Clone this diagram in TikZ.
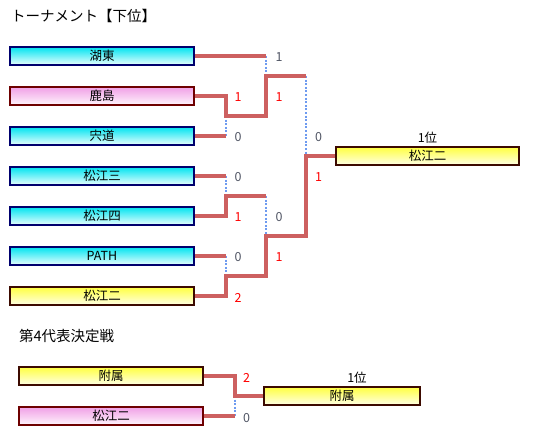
\documentclass[tikz,border=0pt]{standalone}
\usepackage{fontspec}
\setmainfont{Noto Sans CJK JP}
\definecolor{redline}{RGB}{205,96,96}
\definecolor{dotline}{RGB}{110,155,240}
\definecolor{wincol}{RGB}{255,0,0}
\definecolor{losecol}{RGB}{80,85,100}
\definecolor{cyantop}{RGB}{0,228,240}
\definecolor{cyanbot}{RGB}{235,255,255}
\definecolor{pinktop}{RGB}{240,160,230}
\definecolor{pinkbot}{RGB}{255,245,252}
\definecolor{yeltop}{RGB}{255,255,64}
\definecolor{yelbot}{RGB}{255,255,230}
\definecolor{navyb}{RGB}{0,0,110}
\definecolor{redb}{RGB}{110,0,0}
\definecolor{brownb}{RGB}{60,10,0}
\begin{document}
\begin{tikzpicture}[x=1pt,y=-1pt,
  team/.style={draw,line width=1.5pt,rectangle,minimum height=18pt,inner sep=0pt,font=\fontsize{12.5}{14}\selectfont},
  tcyan/.style={team,navyb,text=black,top color=cyantop,bottom color=cyanbot},
  tpink/.style={team,redb,text=black,top color=pinktop,bottom color=pinkbot},
  tyel/.style={team,brownb,text=black,top color=yeltop,bottom color=yelbot},
  wide/.style={minimum width=184pt},
  redpath/.style={draw=redline,line width=3.4pt,line join=miter},
  dotpath/.style={draw=dotline,line width=2.8pt,dash pattern=on 2pt off 1.6pt},
  win/.style={text=wincol,font=\fontsize{12.5}{14}\selectfont,inner sep=0pt},
  lose/.style={text=losecol,font=\fontsize{12.5}{14}\selectfont,inner sep=0pt},
  lbl/.style={font=\fontsize{12.5}{14}\selectfont,inner sep=0pt},
  ttl/.style={font=\fontsize{14.5}{16}\selectfont,inner sep=0pt,anchor=west}
]
\useasboundingbox (0,0) rectangle (541,437);

\node[ttl] (title1) at (11,16) {トーナメント【下位】};

\node[tcyan,wide] (kotou) at (102,56) {湖東};
\node[tpink,wide] (kashima) at (102,96) {鹿島};
\node[tcyan,wide] (shinji) at (102,136) {宍道};
\node[tcyan,wide] (matsue3) at (102,176) {松江三};
\node[tcyan,wide] (matsue4) at (102,216) {松江四};
\node[tcyan,wide] (pathteam) at (102,256) {PATH};
\node[tyel,wide] (matsue2) at (102,296) {松江二};
\node[tyel,minimum width=183pt] (final1) at (427.5,156) {松江二};
\node[lbl] (rank1) at (427.5,138) {1位};

\coordinate (a1) at (266,56);
\coordinate (a2) at (226,96);
\coordinate (a3) at (226,116);
\coordinate (a4) at (266,116);
\coordinate (a5) at (266,76);
\coordinate (a6) at (306,76);
\coordinate (b1) at (226,136);
\coordinate (c1) at (226,176);
\coordinate (c2) at (226,216);
\coordinate (c3) at (226,196);
\coordinate (c4) at (266,196);
\coordinate (d1) at (226,256);
\coordinate (e1) at (226,296);
\coordinate (e2) at (226,276);
\coordinate (e3) at (266,276);
\coordinate (e4) at (266,236);
\coordinate (e5) at (306,236);
\coordinate (e6) at (306,156);

\draw[dotpath] (a1) -- (a5);
\draw[dotpath] (a3) -- (b1);
\draw[dotpath] (a6) -- (e6);
\draw[dotpath] (c1) -- (c3);
\draw[dotpath] (c4) -- (e4);
\draw[dotpath] (d1) -- (e2);

\draw[redpath] (kotou.east) -- (a1);
\draw[redpath] (kashima.east) -- (a2) -- (a3) -- (a4) -- (a5) -- (a6);
\draw[redpath] (shinji.east) -- (b1);
\draw[redpath] (matsue3.east) -- (c1);
\draw[redpath] (matsue4.east) -- (c2) -- (c3) -- (c4);
\draw[redpath] (pathteam.east) -- (d1);
\draw[redpath] (matsue2.east) -- (e1) -- (e2) -- (e3) -- (e4) -- (e5) -- (e6) -- (final1.west);

\node[lose] (s1) at (279,57.5) {1};
\node[win] (s2) at (238,97.5) {1};
\node[win] (s3) at (279,97.5) {1};
\node[lose] (s4) at (238,137.5) {0};
\node[lose] (s5) at (318.5,137.5) {0};
\node[lose] (s6) at (238,177.5) {0};
\node[win] (s7) at (318.5,177.5) {1};
\node[win] (s8) at (238,217.5) {1};
\node[lose] (s9) at (279,217.5) {0};
\node[lose] (s10) at (238,257.5) {0};
\node[win] (s11) at (279,257.5) {1};
\node[win] (s12) at (238,297.5) {2};

\node[ttl] (title2) at (19,336) {第4代表決定戦};

\node[tyel,wide] (fuzoku) at (111,376) {附属};
\node[tpink,wide] (matsue2b) at (111,416) {松江二};
\node[tyel,minimum width=156pt] (final2) at (342,396) {附属};
\node[lbl] (rank2) at (357,378) {1位};

\coordinate (f1) at (235,376);
\coordinate (f2) at (235,396);
\coordinate (g1) at (235,416);

\draw[dotpath] (f2) -- (g1);
\draw[redpath] (fuzoku.east) -- (f1) -- (f2) -- (final2.west);
\draw[redpath] (matsue2b.east) -- (g1);

\node[win] (t1) at (246.5,378) {2};
\node[lose] (t2) at (246.5,418) {0};
\end{tikzpicture}
\end{document}
